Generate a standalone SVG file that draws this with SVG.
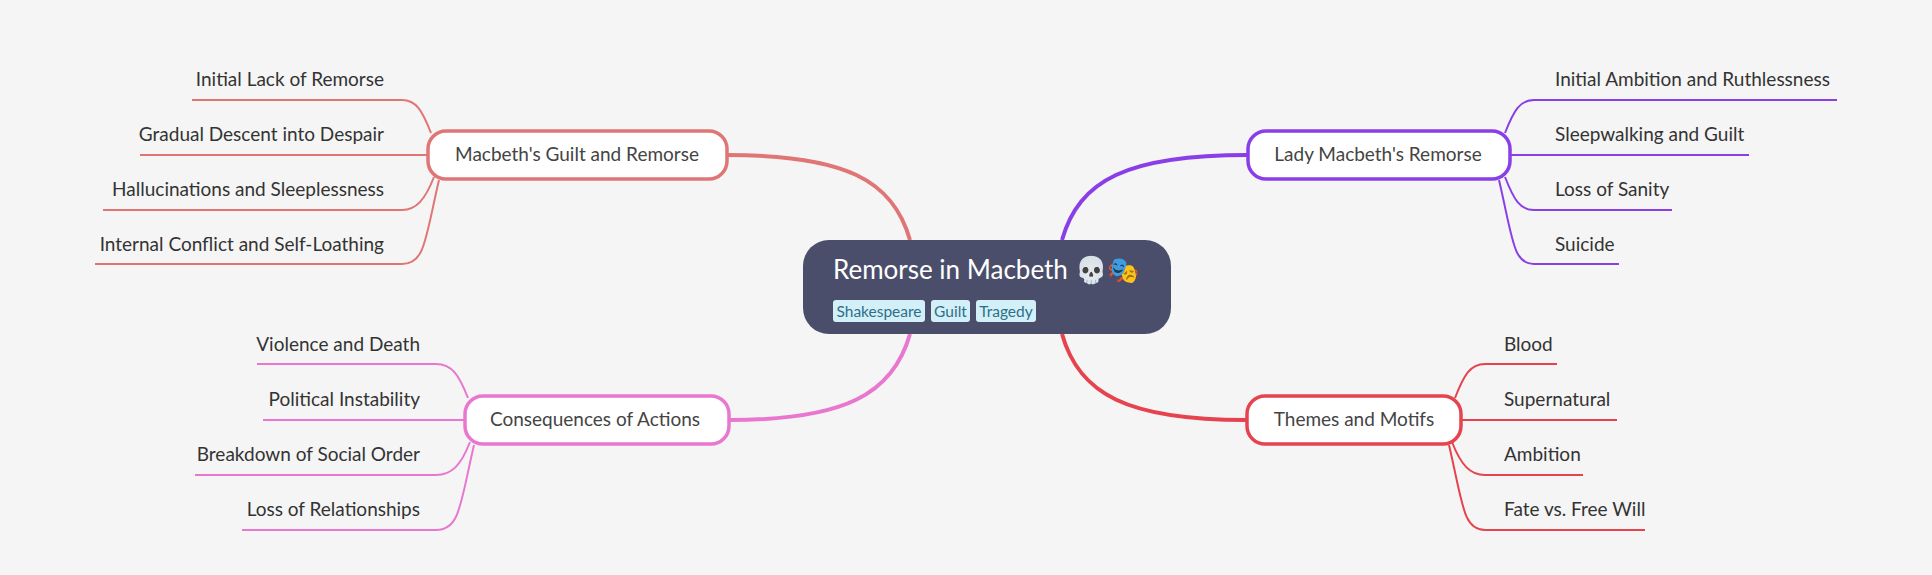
<svg xmlns="http://www.w3.org/2000/svg" width="1932" height="575" viewBox="0 0 1932 575">
<style>
text{font-family:Lato,"Open Sans","Liberation Sans",sans-serif;fill:#333}
.leaf{font-size:19px}
.br{font-size:19px;text-anchor:middle;fill:#444}
.c{fill:none}
.node{fill:#fff;stroke-width:3.5}
.tag{fill:#d3f0f8}
.tt{font-size:15.5px;fill:#2e6f88;text-anchor:middle}
</style>
<rect width="1932" height="575" fill="#f5f5f5"/>
<g id="connectors" class="c">
<path d="M910 240 C893 180 845 155 727 155" stroke="#e07575" stroke-width="4"/>
<path d="M1062 240 C1079 180 1127 155 1248 155" stroke="#8a3ee8" stroke-width="4"/>
<path d="M910 334 C893 394 845 420 729 420" stroke="#e977cf" stroke-width="4"/>
<path d="M1062 334 C1079 394 1127 420 1246 420" stroke="#e5444f" stroke-width="4"/>
<g stroke="#e07575" stroke-width="2">
<path d="M431 133 C422 110 416 100 402 100 H192"/>
<path d="M428 155 H140"/>
<path d="M434 177 C425 200 416 210 402 210 H103"/>
<path d="M439 180 C425 240 425 264 402 264 H95"/>
</g>
<g stroke="#8a3ee8" stroke-width="2">
<path d="M1505 133 C1514 110 1520 100 1534 100 H1837"/>
<path d="M1510 155 H1749"/>
<path d="M1505 177 C1514 200 1520 210 1534 210 H1672"/>
<path d="M1499 180 C1513 240 1513 264 1534 264 H1619"/>
</g>
<g stroke="#e977cf" stroke-width="2">
<path d="M468 398 C459 375 452 364 436 364 H257"/>
<path d="M465 420 H263"/>
<path d="M470 442 C461 465 452 475 436 475 H195"/>
<path d="M474 445 C460 505 460 530 436 530 H242"/>
</g>
<g stroke="#e5444f" stroke-width="2">
<path d="M1455 398 C1464 375 1470 364 1485 364 H1557"/>
<path d="M1461 420 H1617"/>
<path d="M1452 442 C1461 465 1470 475 1485 475 H1583"/>
<path d="M1449 445 C1463 505 1463 530 1485 530 H1645"/>
</g>
</g>
<g id="root">
<rect x="803" y="240" width="368" height="94" rx="26" fill="#4b4e6a"/>
<text x="833" y="279" font-size="26" style="fill:#fff">Remorse in Macbeth 💀🎭</text>
<rect class="tag" x="833" y="300" width="92" height="22" rx="3"/>
<rect class="tag" x="931" y="300" width="39" height="22" rx="3"/>
<rect class="tag" x="976" y="300" width="60" height="22" rx="3"/>
<text class="tt" x="879" y="317">Shakespeare</text>
<text class="tt" x="950.5" y="317">Guilt</text>
<text class="tt" x="1006" y="317">Tragedy</text>
</g>
<g id="macbeth">
<rect class="node" x="428" y="131" width="299" height="48" rx="18" stroke="#e07575"/>
<text class="br" x="577" y="161">Macbeth's Guilt and Remorse</text>
</g>
<g id="macbeth-leaves" class="leaf" text-anchor="end">
<text x="384" y="86">Initial Lack of Remorse</text>
<text x="384" y="141">Gradual Descent into Despair</text>
<text x="384" y="196">Hallucinations and Sleeplessness</text>
<text x="384" y="251">Internal Conflict and Self-Loathing</text>
</g>
<g id="lady">
<rect class="node" x="1248" y="131" width="262" height="48" rx="18" stroke="#8a3ee8"/>
<text class="br" x="1378" y="161">Lady Macbeth's Remorse</text>
</g>
<g id="lady-leaves" class="leaf">
<text x="1555" y="86">Initial Ambition and Ruthlessness</text>
<text x="1555" y="141">Sleepwalking and Guilt</text>
<text x="1555" y="196">Loss of Sanity</text>
<text x="1555" y="251">Suicide</text>
</g>
<g id="consequences">
<rect class="node" x="465" y="396" width="264" height="48" rx="18" stroke="#e977cf"/>
<text class="br" x="595" y="426">Consequences of Actions</text>
</g>
<g id="cons-leaves" class="leaf" text-anchor="end">
<text x="420" y="351">Violence and Death</text>
<text x="420" y="406">Political Instability</text>
<text x="420" y="461">Breakdown of Social Order</text>
<text x="420" y="516">Loss of Relationships</text>
</g>
<g id="themes">
<rect class="node" x="1247" y="396" width="214" height="48" rx="18" stroke="#e5444f"/>
<text class="br" x="1354" y="426">Themes and Motifs</text>
</g>
<g id="themes-leaves" class="leaf">
<text x="1504" y="351">Blood</text>
<text x="1504" y="406">Supernatural</text>
<text x="1504" y="461">Ambition</text>
<text x="1504" y="516">Fate vs. Free Will</text>
</g>
</svg>
